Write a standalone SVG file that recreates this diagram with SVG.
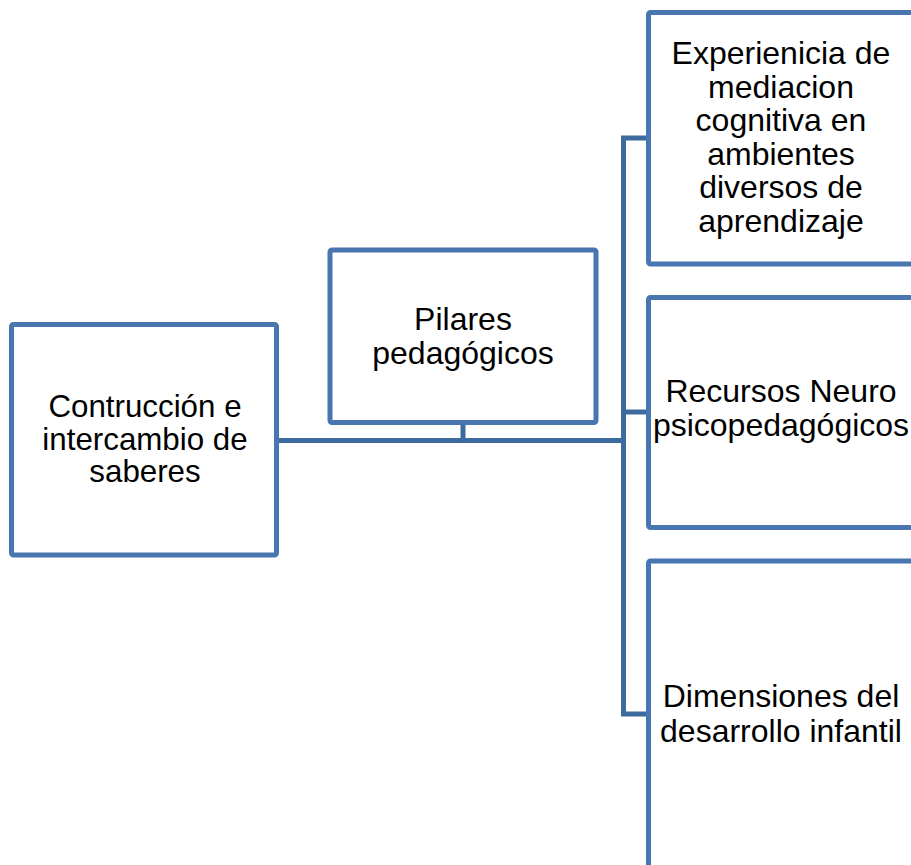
<svg xmlns="http://www.w3.org/2000/svg" width="911" height="865" viewBox="0 0 911 865">
<style>
.box{fill:#ffffff;stroke:#4876B0;stroke-width:5;}
.conn{fill:none;stroke:#3D6A9F;stroke-width:5;stroke-linejoin:miter;}
.t{font-family:"Liberation Sans",Arial,sans-serif;font-size:32px;fill:#000000;text-anchor:middle;}
.s{font-size:31.3px;}
</style>
<rect width="911" height="865" fill="#ffffff"/>
<g id="connectors">
<path class="conn" d="M279,440.5 H623.5"/>
<path class="conn" d="M463,425 V440.5"/>
<path class="conn" d="M648.5,138 H623.5 V714 H648.5"/>
<path class="conn" d="M623.5,412 H648.5"/>
</g>
<g id="node-saberes">
<rect class="box" x="11.5" y="324.5" width="265" height="230.5" rx="2"/>
<text class="t s" x="145" y="417">Contrucción e</text>
<text class="t s" x="145" y="449.5">intercambio de</text>
<text class="t s" x="145" y="482">saberes</text>
</g>
<g id="node-pilares">
<rect class="box" x="330" y="250" width="266" height="172.5" rx="2"/>
<text class="t" x="463" y="330">Pilares</text>
<text class="t" x="463" y="363.5">pedagógicos</text>
</g>
<g id="node-experiencia">
<rect class="box" x="648.5" y="12.5" width="266" height="251.5" rx="2"/>
<text class="t" x="781" y="64">Experienicia de</text>
<text class="t" x="781" y="97.5">mediacion</text>
<text class="t" x="781" y="131">cognitiva en</text>
<text class="t" x="781" y="164.5">ambientes</text>
<text class="t" x="781" y="198">diversos de</text>
<text class="t" x="781" y="231.5">aprendizaje</text>
</g>
<g id="node-recursos">
<rect class="box" x="648.5" y="297.5" width="266" height="230" rx="2"/>
<text class="t" x="781" y="401.5">Recursos Neuro</text>
<text class="t" x="781" y="436">psicopedagógicos</text>
</g>
<g id="node-dimensiones">
<rect class="box" x="648.5" y="561" width="266" height="320" rx="2"/>
<text class="t" x="781" y="706.5">Dimensiones del</text>
<text class="t" x="781" y="741.5">desarrollo infantil</text>
</g>
</svg>
